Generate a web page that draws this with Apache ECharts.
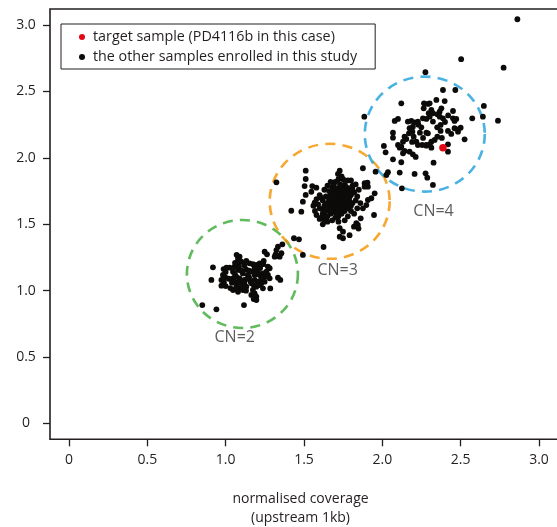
<!DOCTYPE html>
<html>
<head>
<meta charset="utf-8">
<script src="https://cdn.jsdelivr.net/npm/echarts@6/dist/echarts.min.js"></script>
<style>
html,body{margin:0;padding:0;background:#fff;}
#chart{width:557px;height:527px;}
</style>
</head>
<body>
<div id="chart"></div>
<script>
// ---- data ----
const targetName = 'target sample (PD4116b in this case)';
const otherName = 'the other samples enrolled in this study';
const targetSample = [[2.387, 2.077]];

const cn2Samples = [
[1.362,1.349],[1.334,1.331],[1.319,1.274],[1.345,1.256],[1.313,1.256],[1.249,1.294],[1.264,1.274],
[1.243,1.224],[1.270,1.181],[1.281,1.169],[1.217,1.206],[1.089,1.256],[1.079,1.231],[1.100,1.218],
[1.132,1.224],[1.153,1.206],[1.174,1.199],[1.196,1.194],[1.206,1.181],[1.185,1.169],[1.057,1.181],
[1.047,1.143],[1.079,1.156],[1.085,1.181],[1.026,1.173],[1.005,1.173],[0.987,1.163],[0.919,1.176],
[0.909,1.081],[0.983,1.118],[1.000,1.098],[0.973,1.081],[0.989,1.063],[0.973,1.038],[1.000,1.035],
[1.047,1.093],[1.068,1.105],[1.089,1.093],[1.057,1.068],[1.079,1.056],[1.100,1.068],[1.068,1.030],
[1.089,1.018],[1.110,1.043],[1.121,1.081],[1.047,1.005],[1.079,0.992],[1.110,1.005],[1.132,1.030],
[1.142,1.118],[1.164,1.143],[1.185,1.118],[1.206,1.143],[1.217,1.118],[1.228,1.093],[1.238,1.131],
[1.249,1.105],[1.260,1.143],[1.270,1.118],[1.281,1.093],[1.249,1.068],[1.228,1.056],[1.206,1.068],
[1.185,1.081],[1.164,1.056],[1.196,1.030],[1.217,1.043],[1.238,1.018],[1.174,1.005],[1.185,0.980],
[1.164,0.968],[1.196,0.955],[1.196,0.930],[1.179,0.937],[1.285,1.017],[1.334,1.098],[1.349,1.081],
[1.117,0.892],[0.941,0.860],[0.851,0.892],
[1.06,1.12],[1.04,1.06],[1.02,1.09],[1.11,1.13],[1.13,1.16],[1.15,1.10],[1.09,1.07],[1.12,1.06],
[1.07,1.01],[1.03,1.02],[1.14,1.09],[1.16,1.07],[1.10,1.15],[1.08,1.19],[1.12,1.19],[1.06,1.21],
[1.15,1.15],[1.19,1.14],[1.22,1.17],[1.24,1.20],[1.18,1.04],[1.13,1.00],[1.00,1.14],[1.08,1.25],[1.07,1.27]
];

const cn3Samples = [
[1.436,1.395],[1.468,1.387],[1.324,1.306],[1.356,1.282],[1.334,1.261],[1.493,1.269],[1.625,1.329],
[1.324,1.816],[1.511,1.904],[1.511,1.841],[1.504,1.788],[1.553,1.788],[1.579,1.776],[1.547,1.745],
[1.511,1.721],[1.493,1.670],[1.568,1.663],[1.419,1.602],[1.483,1.595],[1.728,1.904],[1.717,1.879],
[1.887,1.809],[1.905,1.813],[1.887,1.783],[1.908,1.783],[1.951,1.733],[1.930,1.696],[1.908,1.683],
[1.898,1.645],[1.876,1.620],[1.947,1.570],[1.862,1.545],[1.834,1.508],[1.819,1.482],[1.844,1.495],
[1.728,1.470],[1.749,1.444],[1.749,1.395],[1.728,1.407],[1.791,1.418],[1.848,1.468],
[1.60,1.62],[1.62,1.58],[1.64,1.60],[1.66,1.63],[1.68,1.65],[1.70,1.67],[1.72,1.69],[1.74,1.71],[1.76,1.73],[1.78,1.75],
[1.61,1.55],[1.63,1.53],[1.65,1.56],[1.67,1.58],[1.69,1.60],[1.71,1.62],[1.73,1.64],[1.75,1.66],[1.77,1.68],[1.79,1.70],
[1.66,1.70],[1.68,1.72],[1.70,1.74],[1.72,1.76],[1.74,1.78],[1.76,1.80],[1.70,1.82],[1.72,1.84],[1.68,1.78],[1.66,1.75],
[1.58,1.57],[1.59,1.65],[1.62,1.68],[1.64,1.71],[1.65,1.66],[1.67,1.68],[1.69,1.70],[1.71,1.72],[1.73,1.73],[1.75,1.75],
[1.80,1.72],[1.82,1.74],[1.81,1.66],[1.83,1.68],[1.78,1.62],[1.80,1.64],[1.76,1.60],[1.74,1.58],[1.72,1.56],[1.70,1.55],
[1.77,1.78],[1.79,1.77],[1.81,1.79],[1.78,1.83],[1.75,1.84],[1.73,1.80],[1.69,1.80],[1.67,1.82],[1.65,1.79],[1.63,1.76],
[1.60,1.72],[1.61,1.70],[1.63,1.64],[1.66,1.61],[1.68,1.59],[1.71,1.58],[1.73,1.61],[1.75,1.63],[1.77,1.65],[1.79,1.67],
[1.84,1.71],[1.85,1.76],[1.83,1.80],[1.80,1.83],[1.68,1.53],[1.65,1.52],[1.60,1.54],[1.57,1.60],[1.56,1.64],[1.58,1.69],
[1.71,1.65],[1.69,1.63],[1.67,1.66],[1.73,1.67],[1.74,1.69],[1.72,1.71],[1.70,1.70],[1.76,1.70],[1.78,1.72],[1.66,1.68],
[1.62,1.61],[1.64,1.65],[1.67,1.72],[1.69,1.75],[1.71,1.77],[1.73,1.75],[1.75,1.77],[1.77,1.75],[1.79,1.74],[1.81,1.76],
[1.86,1.66],[1.84,1.62],[1.82,1.58],[1.78,1.56],[1.76,1.53],[1.72,1.52],[1.64,1.56],[1.62,1.50],[1.80,1.60],[1.74,1.86]
];

const cn4Samples = [
[2.275,2.645],[2.121,2.411],[1.885,2.310],[2.266,2.411],[2.291,2.406],[2.264,2.373],[2.296,2.336],
[2.259,2.298],[2.281,2.293],[2.100,2.293],[2.079,2.278],[2.163,2.273],[2.185,2.278],[2.206,2.268],
[2.227,2.273],[2.249,2.230],[2.174,2.223],[2.195,2.235],[2.192,2.197],[2.170,2.185],[2.068,2.190],
[2.281,2.190],[2.142,2.160],[2.153,2.142],[2.132,2.122],[2.068,2.152],[2.217,2.122],[2.227,2.097],
[2.281,2.097],[2.255,2.097],[2.100,2.097],[2.111,2.077],[2.121,2.084],[2.010,2.090],[2.142,2.052],
[2.174,2.047],[2.021,2.042],[2.195,2.027],[2.213,2.007],[2.132,2.035],[2.068,1.989],[2.121,1.967],
[1.876,1.922],[1.957,1.896],[2.036,1.892],[2.026,1.871],[2.111,1.889],[2.206,1.879],[2.276,1.884],
[2.125,1.771],[2.387,2.511],[2.466,2.511],[2.648,2.391],[2.738,2.280],[2.574,2.298],[2.642,2.310],
[2.345,2.436],[2.398,2.428],[2.302,2.411],[2.313,2.361],[2.377,2.373],[2.366,2.348],[2.351,2.328],
[2.323,2.336],[2.451,2.353],[2.302,2.310],[2.366,2.310],[2.387,2.298],[2.451,2.298],[2.472,2.293],
[2.461,2.278],[2.323,2.273],[2.372,2.248],[2.461,2.223],[2.483,2.215],[2.500,2.227],[2.483,2.197],
[2.419,2.203],[2.372,2.203],[2.291,2.185],[2.351,2.160],[2.334,2.135],[2.313,2.122],[2.302,2.102],
[2.525,2.140],[2.281,2.092],[2.313,2.077],[2.419,2.102],[2.419,2.047],[2.327,1.964],[2.287,1.851],
[2.323,1.796],[2.20,2.16],[2.24,2.19],[2.23,2.25],[2.26,2.15],[2.19,2.12],[2.35,2.23],[2.40,2.27],
[2.42,2.32],[2.38,2.15],[2.44,2.18],
[2.862,3.044],[2.774,2.679],[2.503,2.743]
];

const cnLabels = ['CN=2', 'CN=3', 'CN=4'];
const cnLabelPos = [[1.058, 0.651], [1.715, 1.151], [2.327, 1.600]];
const cnCircleCenters = [[1.107, 1.126], [1.664, 1.673], [2.271, 2.179]];

const xTicks = [0, 0.5, 1, 1.5, 2, 2.5, 3];
const xTickLabels = ['0', '0.5', '1.0', '1.5', '2.0', '2.5', '3.0'];
const yTicks = [0, 0.5, 1, 1.5, 2, 2.5, 3];
const yTickLabels = ['0', '0.5', '1.0', '1.5', '2.0', '2.5', '3.0'];
const xTitle = 'normalised coverage\n(upstream 1kb)';

// ---- chart ----
const FONT = '"Open Sans", "Noto Sans", sans-serif';
const INK = '#231f20';
function lab(ticks, labels) {
  return v => { const i = ticks.findIndex(t => Math.abs(t - v) < 1e-9); return i >= 0 ? labels[i] : ''; };
}
const circleColors = ['#3aaa35', '#f29400', '#1d9fdb'];
const circleSizes = [[111, 108], [120, 115], [120, 115]];

const chart = echarts.init(document.getElementById('chart'), null, {renderer: 'canvas'});
const circleSeries = cnCircleCenters.map((c, i) => ({
  type: 'scatter', silent: true, z: 1,
  data: [c], symbol: 'circle', symbolSize: circleSizes[i],
  itemStyle: {color: 'rgba(0,0,0,0)', borderColor: circleColors[i], borderWidth: 2.6, borderType: [10, 7]}
}));

chart.setOption({
  animation: false,
  backgroundColor: '#fff',
  grid: {left: 50, top: 9, width: 510, height: 430.3, show: true, borderColor: INK, borderWidth: 1.6,
         backgroundColor: 'transparent', containLabel: false, outerBoundsMode: 'none'},
  legend: {
    data: [targetName, otherName],
    orient: 'vertical', left: 61, top: 24,
    backgroundColor: '#fff',
    borderColor: INK, borderWidth: 1, borderRadius: 0,
    padding: [5, 18, 4, 18],
    itemWidth: 12, itemHeight: 6, itemGap: 4,
    icon: 'circle',
    textStyle: {fontFamily: FONT, fontSize: 14.3, color: INK, lineHeight: 16},
    selectedMode: false
  },
  xAxis: {
    type: 'value', min: -0.121, max: 3.134,
    axisLine: {show: false, onZero: false},
    splitLine: {show: false},
    axisTick: {show: true, inside: false, length: 7, customValues: xTicks, lineStyle: {color: INK, width: 1.3}},
    axisLabel: {customValues: xTicks, formatter: lab(xTicks, xTickLabels), margin: 14, fontFamily: FONT, fontSize: 14, color: INK},
    name: xTitle, nameLocation: 'middle', nameGap: 50,
    nameTextStyle: {fontFamily: FONT, fontSize: 14, color: INK, lineHeight: 19, padding: [0, 9, 0, 0]}
  },
  yAxis: {
    type: 'value', min: -0.119, max: 3.121,
    axisLine: {show: false, onZero: false},
    splitLine: {show: false},
    axisTick: {show: true, inside: false, length: 7, customValues: yTicks, lineStyle: {color: INK, width: 1.3}},
    axisLabel: {customValues: yTicks, formatter: lab(yTicks, yTickLabels), margin: 24, align: 'center', fontFamily: FONT, fontSize: 14, color: INK}
  },
  series: [
    ...circleSeries,
    {
      type: 'scatter', name: otherName, z: 3,
      data: [...cn2Samples, ...cn3Samples, ...cn4Samples],
      symbol: 'circle', symbolSize: 5.8,
      itemStyle: {color: '#0d0b0a', opacity: 1}
    },
    {
      type: 'scatter', name: targetName, z: 4,
      data: targetSample, symbol: 'circle', symbolSize: 7.5,
      itemStyle: {color: '#e30613', opacity: 1}
    },
    {
      type: 'scatter', silent: true, z: 5,
      data: cnLabelPos.map((p, i) => ({value: p, name: cnLabels[i]})),
      symbolSize: 0,
      label: {show: true, position: 'inside', formatter: '{b}', fontFamily: FONT, fontSize: 16, color: '#333'}
    }
  ]
});
</script>
</body>
</html>
